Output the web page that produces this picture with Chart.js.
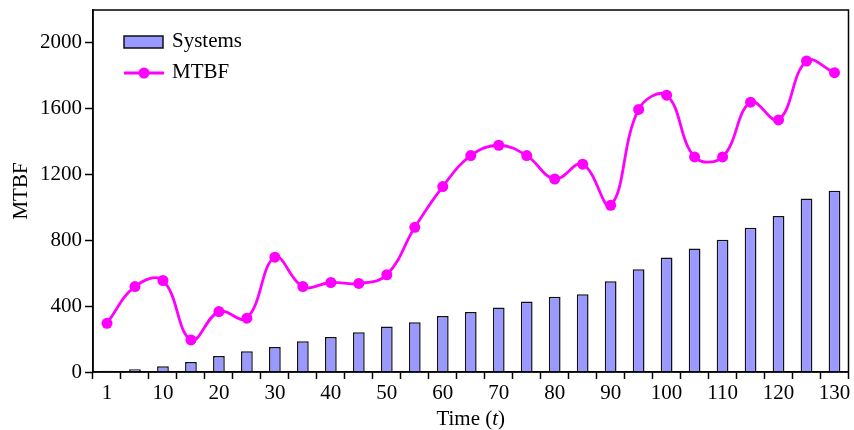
<!DOCTYPE html>
<html>
<head>
<meta charset="utf-8">
<script src="https://cdn.jsdelivr.net/npm/chart.js@4.4.0/dist/chart.umd.min.js"></script>
<style>
  html, body { margin: 0; padding: 0; background: #fff; }
  #wrap { width: 854px; height: 430px; }
</style>
</head>
<body>
<div id="wrap"><canvas id="myChart" width="854" height="430"></canvas></div>
<script>
// data
const timeLabels = ['1', '5', '10', '15', '20', '25', '30', '35', '40', '45', '50', '55', '60', '65',
    '70', '75', '80', '85', '90', '95', '100', '105', '110', '115', '120', '125', '130'];
const systems = [8, 16, 35, 61, 97, 126, 152, 187, 213, 241, 276, 302, 341, 365,
    392, 428, 457, 473, 552, 625, 696, 751, 804, 877, 948, 1055, 1102];
const mtbf = [296, 519, 556, 195, 367, 327, 698, 519, 544, 538, 591, 879, 1127, 1315,
    1378, 1315, 1173, 1263, 1013, 1596, 1682, 1307, 1307, 1640, 1532, 1890, 1819];
const yTicks = [0, 400, 800, 1200, 1600, 2000];

const serif = '"Liberation Serif", "DejaVu Serif", serif';
const barColor = '#9999ff';
const lineColor = '#ff00ff';

// box round the plot area
const framePlugin = {
    id: 'frame',
    afterDraw(chart) {
        const a = chart.chartArea;
        const ctx = chart.ctx;
        ctx.save();
        ctx.strokeStyle = '#000';
        ctx.lineWidth = 1.5;
        ctx.strokeRect(a.left, a.top, a.right - a.left, a.bottom - a.top);
        ctx.restore();
    }
};

// legend inside the plot, top left
const legendPlugin = {
    id: 'innerLegend',
    afterDraw(chart) {
        const ctx = chart.ctx;
        const x = chart.chartArea.left + 31;
        ctx.save();
        ctx.font = '21px ' + serif;
        ctx.textBaseline = 'middle';

        // Systems
        ctx.fillStyle = barColor;
        ctx.fillRect(x, 36, 39, 12);
        ctx.strokeStyle = '#111';
        ctx.lineWidth = 1.5;
        ctx.strokeRect(x, 36, 39, 12);
        ctx.fillStyle = '#000';
        ctx.fillText('Systems', x + 48, 41);

        // MTBF
        ctx.strokeStyle = lineColor;
        ctx.lineWidth = 2.8;
        ctx.beginPath();
        ctx.moveTo(x, 73);
        ctx.lineTo(x + 40, 73);
        ctx.stroke();
        ctx.fillStyle = lineColor;
        ctx.beginPath();
        ctx.arc(x + 20, 73, 5.5, 0, Math.PI * 2);
        ctx.fill();
        ctx.fillStyle = '#000';
        ctx.fillText('MTBF', x + 48, 72);
        ctx.restore();
    }
};

// x title with italic t
const xTitlePlugin = {
    id: 'xTitle',
    afterDraw(chart) {
        const ctx = chart.ctx;
        const a = chart.chartArea;
        const cx = (a.left + a.right) / 2;
        const y = 419;
        ctx.save();
        ctx.textBaseline = 'middle';
        ctx.fillStyle = '#000';
        const parts = [['Time (', ''], ['t', 'italic '], [')', '']];
        let total = 0;
        parts.forEach(p => {
            ctx.font = p[1] + '21px ' + serif;
            total += ctx.measureText(p[0]).width;
        });
        let x = cx - total / 2;
        parts.forEach(p => {
            ctx.font = p[1] + '21px ' + serif;
            ctx.fillText(p[0], x, y);
            x += ctx.measureText(p[0]).width;
        });
        ctx.restore();
    }
};

const ctx = document.getElementById('myChart').getContext('2d');
const myChart = new Chart(ctx, {
    type: 'bar',
    data: {
        labels: timeLabels,
        datasets: [
            {
                type: 'line',
                label: 'MTBF',
                data: mtbf,
                borderColor: lineColor,
                backgroundColor: lineColor,
                borderWidth: 2.8,
                pointRadius: 5.5,
                pointBackgroundColor: lineColor,
                pointBorderWidth: 0,
                tension: 0.4,
                order: 0
            },
            {
                label: 'Systems',
                data: systems,
                backgroundColor: barColor,
                borderColor: '#111',
                borderWidth: 1.5,
                categoryPercentage: 1,
                barPercentage: 0.42,
                order: 1
            }
        ]
    },
    options: {
        responsive: false,
        animation: false,
        layout: { padding: { left: 0, right: 3, top: 10, bottom: 0 } },
        plugins: {
            legend: { display: false },
            tooltip: { enabled: false }
        },
        scales: {
            x: {
                grid: {
                    offset: true,
                    drawOnChartArea: false,
                    drawTicks: true,
                    tickLength: 7,
                    tickColor: '#000',
                    tickWidth: 1.5
                },
                border: { display: true, color: '#000', width: 1.5 },
                ticks: {
                    autoSkip: false,
                    maxRotation: 0,
                    color: '#000',
                    font: { family: serif, size: 21 },
                    padding: 2,
                    callback: (v, i) => i % 2 === 0 ? timeLabels[i] : ''
                },
                afterFit: scale => { scale.height = 58; }
            },
            y: {
                min: 0,
                max: 2200,
                afterBuildTicks: scale => { scale.ticks = yTicks.map(v => ({ value: v })); },
                grid: {
                    drawOnChartArea: false,
                    drawTicks: true,
                    tickLength: 8,
                    tickColor: '#000',
                    tickWidth: 1.5
                },
                border: { display: true, color: '#000', width: 1.5 },
                ticks: {
                    color: '#000',
                    font: { family: serif, size: 21 },
                    padding: 3,
                    callback: v => String(v)
                },
                title: {
                    display: true,
                    text: 'MTBF',
                    color: '#000',
                    font: { family: serif, size: 21 },
                    padding: { top: 9, bottom: 0 }
                },
                afterFit: scale => {
                    scale.width = 93;
                    scale.paddingTop = 0;
                    scale.paddingBottom = 0;
                }
            }
        }
    },
    plugins: [framePlugin, legendPlugin, xTitlePlugin]
});
</script>
</body>
</html>
